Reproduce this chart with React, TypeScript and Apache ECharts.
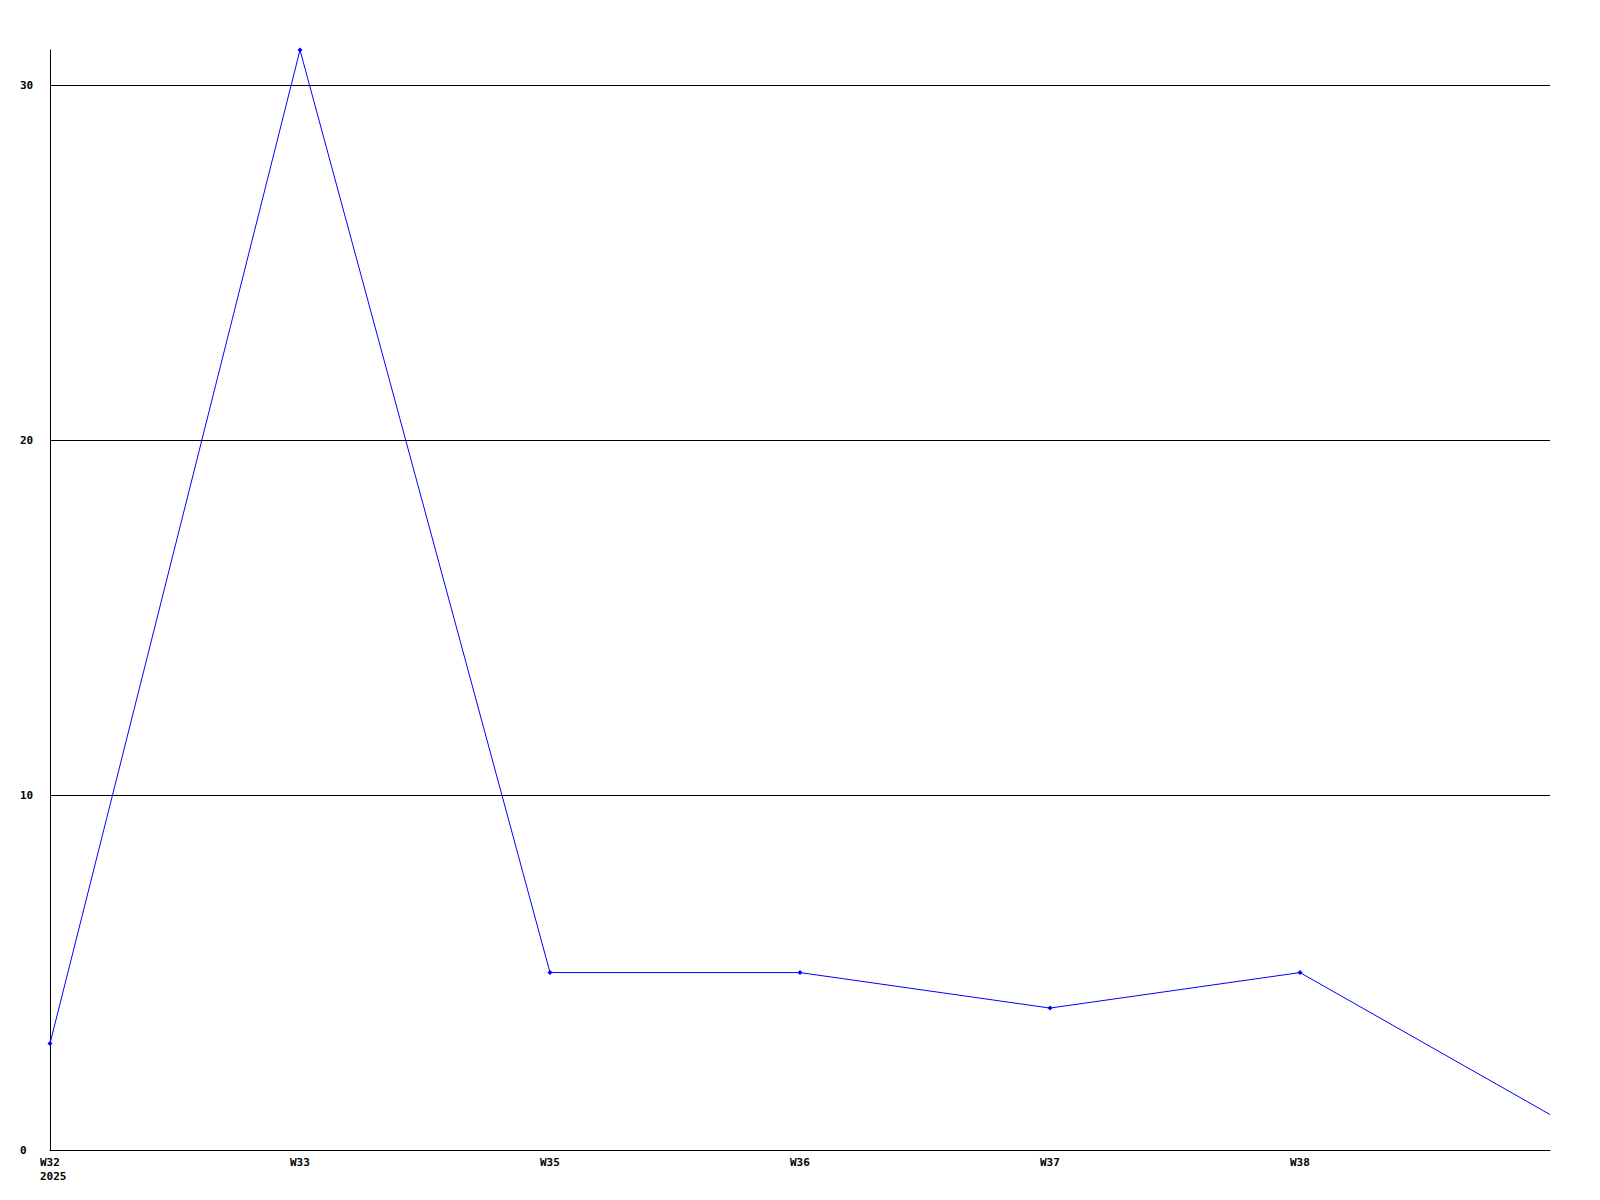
import React, { useEffect, useRef } from "react";
import * as echarts from "echarts";

const weeks = ["W32", "W33", "W35", "W36", "W37", "W38", "W39"];
const values = [3, 31, 5, 5, 4, 5, 1];
const yearLabel = "2025";
const yTicks = { min: 0, max: 31, interval: 10 };

const FONT = "'DejaVu Sans Mono', 'Liberation Mono', monospace";

export default function App() {
  const ref = useRef<HTMLDivElement>(null);
  useEffect(() => {
    if (!ref.current) return;
    const chart = echarts.init(ref.current, undefined, { renderer: "svg" });
    const last = weeks.length - 1;
    chart.setOption({
      animation: false,
      backgroundColor: "#ffffff",
      grid: { left: 50, right: 50, top: 50, bottom: 50, containLabel: false },
      xAxis: {
        type: "category",
        data: weeks,
        boundaryGap: false,
        axisLine: { show: true, lineStyle: { color: "#000", width: 1 } },
        axisTick: { show: false },
        splitLine: { show: false },
        axisLabel: {
          interval: 0,
          margin: 5,
          color: "#000",
          fontFamily: FONT,
          fontWeight: "bold",
          fontSize: 11,
          lineHeight: 14,
          formatter: (v: string, i: number) =>
            i === last ? "" : i === 0 ? `{a|${v}}\n{a|${yearLabel}}` : `{a|${v}}`,
          rich: {
            a: {
              width: 20,
              align: "left",
              color: "#000",
              fontFamily: FONT,
              fontWeight: "bold",
              fontSize: 11,
              lineHeight: 14,
            },
          },
        },
      },
      yAxis: {
        type: "value",
        min: yTicks.min,
        max: yTicks.max,
        interval: yTicks.interval,
        axisLine: { show: true, lineStyle: { color: "#000", width: 1 } },
        axisTick: { show: false },
        splitLine: {
          show: true,
          showMinLine: false,
          showMaxLine: false,
          lineStyle: { color: "#000", width: 1 },
        },
        axisLabel: {
          showMaxLabel: false,
          align: "left",
          margin: 30,
          color: "#000",
          fontFamily: FONT,
          fontWeight: "bold",
          fontSize: 11,
        },
      },
      series: [
        {
          type: "line",
          data: values.map((v, i) => (i === last ? { value: v, symbol: "none" } : v)),
          symbol: "diamond",
          symbolSize: 5,
          showSymbol: true,
          lineStyle: { color: "#0000ff", width: 1 },
          itemStyle: { color: "#0000ff" },
        },
      ],
    });
    return () => chart.dispose();
  }, []);
  return (
    <div
      ref={ref}
      style={{ position: "fixed", left: 0, top: 0, width: 1600, height: 1200, background: "#fff" }}
    />
  );
}
